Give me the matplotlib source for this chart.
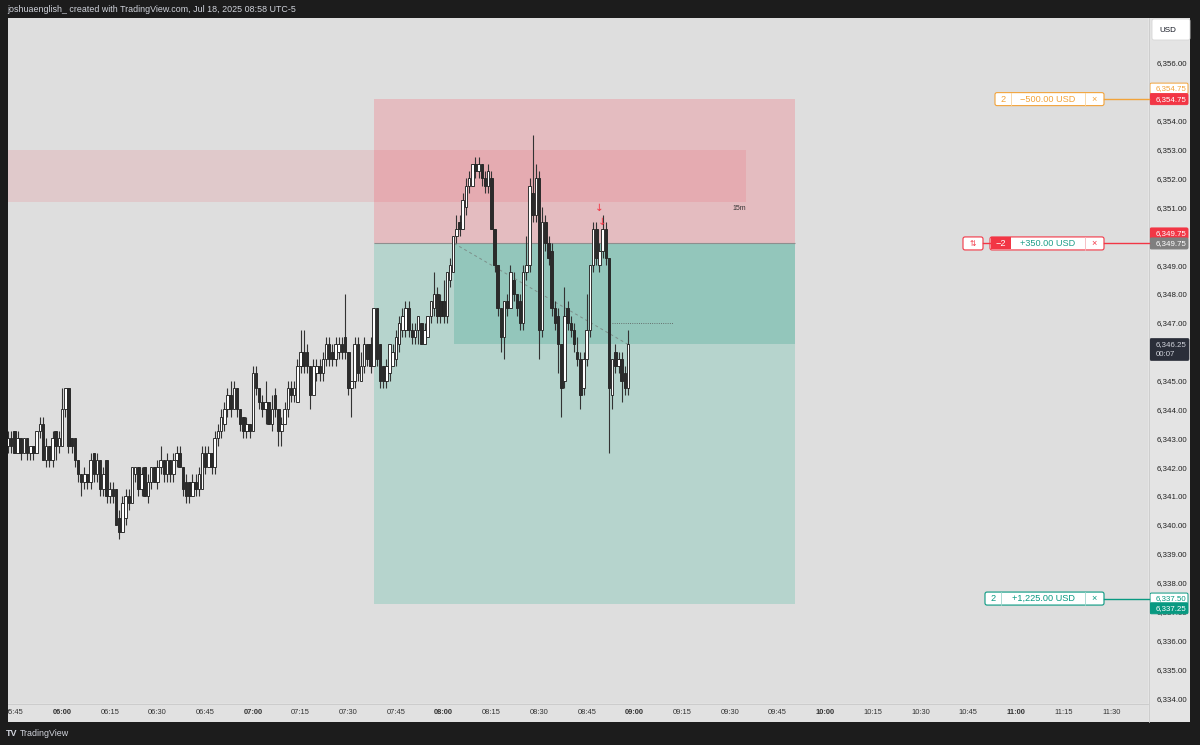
import matplotlib
matplotlib.use("Agg")
import matplotlib.pyplot as plt
from matplotlib.patches import Rectangle, FancyBboxPatch

plt.rcParams['font.family'] = ['Liberation Sans', 'DejaVu Sans']

# 1 minute bars, first bar 05:43 (minutes after midnight)
first_bar = 5 * 60 + 43

opens = [
    # 05:43 - 05:59
    6342.75, 6343.0, 6343.25, 6342.5, 6343.0, 6342.5, 6343.0, 6342.5, 6342.75, 6342.5, 6343.25, 6343.5, 6342.25, 6342.75, 6342.25, 6343.25, 6342.75,
    # 06:00
    6342.75, 6344.0, 6344.75, 6343.0, 6343.0, 6342.25, 6341.75, 6341.5, 6341.75, 6341.5, 6342.5, 6341.75, 6342.25, 6341.25, 6342.25,
    6341.0, 6341.25, 6341.25, 6340.25, 6339.75, 6340.25, 6341.0, 6340.75, 6341.75, 6342.0, 6341.25, 6342.0, 6341.0, 6341.5, 6342.0,
    6341.5, 6342.0, 6342.25, 6341.75, 6342.25, 6341.75, 6342.25, 6342.5, 6342.0, 6341.5, 6341.5, 6341.0, 6341.5, 6341.25, 6341.25,
    6342.5, 6342.0, 6342.5, 6342.0, 6343.0, 6343.25, 6343.5, 6344.0, 6344.5, 6344.0, 6344.75, 6344.0, 6343.75, 6343.25, 6343.5,
    # 07:00
    6343.25, 6345.25, 6344.75, 6344.25, 6344.0, 6344.25, 6343.5, 6344.5, 6344.0, 6343.25, 6343.5, 6344.0, 6344.75, 6344.5, 6344.25,
    6345.5, 6346.0, 6346.0, 6345.5, 6344.5, 6345.25, 6345.5, 6345.25, 6345.75, 6346.25, 6346.0, 6345.75, 6346.0, 6346.25, 6346.5,
    6346.0, 6344.75, 6345.0, 6346.25, 6345.0, 6345.5, 6346.25, 6346.25, 6345.5, 6347.5, 6346.25, 6345.5, 6345.0, 6345.25, 6345.5,
    6345.75, 6346.25, 6346.75, 6346.75, 6347.5, 6346.75, 6346.5, 6346.75, 6347.0, 6346.25, 6346.5, 6347.25, 6347.5, 6348.0, 6347.75,
    # 08:00
    6347.75, 6347.25, 6348.5, 6348.75, 6350.0, 6350.5, 6350.25, 6351.0, 6351.75, 6351.75, 6352.5, 6352.25, 6352.5, 6352.0, 6351.75,
    6352.0, 6350.25, 6349.0, 6347.5, 6346.5, 6347.75, 6347.5, 6348.5, 6348.0, 6347.75, 6347.0, 6348.75, 6349.0, 6351.5, 6350.75,
    6352.0, 6346.75, 6350.5, 6349.75, 6349.5, 6347.5, 6347.25, 6346.25, 6345.0, 6347.5, 6347.0, 6346.75, 6346.0, 6345.75, 6344.75,
    6345.75, 6346.75, 6349.0, 6350.25, 6349.0, 6349.5, 6350.25, 6349.25, 6344.5, 6346.0, 6345.5, 6345.75, 6345.25, 6344.75,
]
highs = [
    6343.25, 6343.25, 6343.25, 6343.25, 6343.0, 6343.0, 6343.0, 6342.75, 6342.75, 6343.25, 6343.75, 6343.75, 6343.0, 6342.75, 6343.25, 6343.25, 6343.25,
    6344.75, 6344.75, 6344.75, 6343.0, 6343.0, 6342.25, 6341.75, 6342.0, 6341.75, 6342.5, 6342.5, 6342.5, 6342.25, 6342.0, 6342.25,
    6341.5, 6341.5, 6341.25, 6340.5, 6341.0, 6341.25, 6341.25, 6342.0, 6342.0, 6342.0, 6342.0, 6342.0, 6341.75, 6342.0, 6342.0,
    6342.25, 6342.75, 6342.25, 6342.5, 6342.25, 6342.5, 6342.75, 6342.75, 6342.0, 6341.75, 6341.5, 6341.75, 6341.75, 6342.0, 6342.75,
    6342.75, 6342.75, 6342.5, 6343.25, 6343.5, 6344.0, 6344.25, 6344.75, 6345.0, 6345.0, 6344.75, 6344.0, 6343.75, 6343.75, 6343.5,
    6345.5, 6345.5, 6344.75, 6344.5, 6345.0, 6344.25, 6344.5, 6344.75, 6344.0, 6343.75, 6344.25, 6345.0, 6345.0, 6345.0, 6345.75,
    6346.75, 6346.75, 6346.25, 6345.5, 6345.75, 6345.75, 6345.75, 6346.0, 6346.5, 6346.5, 6346.25, 6346.5, 6346.5, 6346.5, 6348.0,
    6346.0, 6345.0, 6346.5, 6346.5, 6346.0, 6346.5, 6346.25, 6346.5, 6347.5, 6347.5, 6346.25, 6345.5, 6345.75, 6346.25, 6346.25,
    6346.75, 6347.25, 6347.5, 6347.75, 6347.75, 6347.0, 6347.0, 6347.25, 6347.0, 6347.0, 6347.25, 6347.75, 6348.75, 6348.25, 6348.0,
    6348.5, 6348.75, 6349.25, 6350.0, 6350.75, 6350.75, 6351.5, 6352.0, 6352.25, 6352.5, 6352.75, 6352.75, 6352.5, 6352.25, 6352.5,
    6352.25, 6350.25, 6349.0, 6347.5, 6347.75, 6348.0, 6349.0, 6348.75, 6348.0, 6348.0, 6349.0, 6350.0, 6352.0, 6353.5, 6352.5,
    6352.25, 6351.0, 6350.75, 6350.0, 6349.75, 6347.75, 6347.5, 6346.25, 6348.25, 6347.75, 6347.25, 6347.0, 6346.5, 6346.0, 6346.0,
    6348.0, 6349.0, 6350.5, 6350.5, 6349.75, 6350.75, 6350.5, 6349.25, 6345.75, 6346.25, 6346.0, 6346.0, 6345.5, 6346.75,
]
lows = [
    6342.5, 6342.5, 6342.5, 6342.5, 6342.25, 6342.5, 6342.25, 6342.25, 6342.25, 6342.5, 6343.0, 6342.25, 6342.0, 6342.0, 6342.0, 6342.25, 6342.5,
    6342.75, 6343.75, 6342.5, 6342.5, 6342.0, 6341.5, 6341.0, 6341.25, 6341.25, 6341.25, 6341.5, 6341.5, 6341.0, 6341.0, 6340.75,
    6340.75, 6340.75, 6340.0, 6339.5, 6339.75, 6340.0, 6340.5, 6340.75, 6341.5, 6341.0, 6341.0, 6341.0, 6340.75, 6341.25, 6341.5,
    6341.25, 6341.75, 6341.5, 6341.5, 6341.5, 6341.5, 6342.0, 6342.0, 6341.0, 6340.75, 6340.75, 6341.0, 6341.0, 6341.0, 6341.25,
    6341.75, 6342.0, 6341.75, 6341.75, 6342.75, 6343.0, 6343.25, 6343.75, 6343.75, 6344.0, 6343.75, 6343.25, 6343.0, 6343.0, 6343.0,
    6343.25, 6344.5, 6344.0, 6343.75, 6343.5, 6343.5, 6343.25, 6343.75, 6342.75, 6342.75, 6343.5, 6343.75, 6344.25, 6344.25, 6344.25,
    6345.25, 6345.25, 6345.25, 6344.0, 6344.5, 6345.0, 6345.0, 6345.0, 6345.5, 6345.5, 6345.5, 6345.5, 6345.75, 6345.75, 6345.75,
    6344.5, 6343.75, 6344.75, 6345.0, 6345.0, 6345.25, 6345.5, 6345.25, 6345.5, 6345.5, 6344.75, 6344.75, 6344.75, 6345.0, 6345.5,
    6345.5, 6346.0, 6346.5, 6346.5, 6346.5, 6346.25, 6346.25, 6346.25, 6346.25, 6346.25, 6346.5, 6347.0, 6347.25, 6347.0, 6347.0,
    6347.0, 6347.0, 6348.25, 6348.75, 6349.75, 6350.0, 6350.25, 6350.75, 6351.5, 6351.75, 6352.0, 6352.0, 6351.75, 6351.5, 6351.5,
    6350.25, 6348.75, 6347.25, 6346.0, 6345.75, 6347.25, 6347.5, 6347.75, 6347.25, 6346.75, 6346.75, 6348.5, 6348.75, 6350.5, 6350.5,
    6345.75, 6346.5, 6349.5, 6349.0, 6347.25, 6346.75, 6345.25, 6343.75, 6344.75, 6346.75, 6346.5, 6346.0, 6345.5, 6344.0, 6344.5,
    6345.5, 6346.5, 6348.75, 6349.0, 6348.75, 6349.25, 6349.0, 6342.5, 6344.0, 6345.25, 6345.25, 6344.25, 6344.5, 6344.5,
]
closes = [
    6343.0, 6342.75, 6342.5, 6343.0, 6342.5, 6343.0, 6342.5, 6342.75, 6342.5, 6343.25, 6343.5, 6342.25, 6342.75, 6342.25, 6343.0, 6342.75, 6343.0,
    6344.0, 6344.75, 6342.75, 6342.75, 6342.25, 6341.75, 6341.5, 6341.75, 6341.5, 6342.25, 6341.75, 6342.25, 6341.25, 6341.75, 6341.0,
    6341.25, 6341.0, 6340.0, 6339.75, 6340.75, 6341.0, 6340.75, 6342.0, 6342.0, 6341.25, 6341.75, 6341.0, 6341.5, 6342.0, 6341.5,
    6342.0, 6342.25, 6341.75, 6342.25, 6341.75, 6342.25, 6342.5, 6342.0, 6341.25, 6341.0, 6341.0, 6341.5, 6341.25, 6341.75, 6342.5,
    6342.0, 6342.5, 6342.0, 6343.0, 6343.25, 6343.75, 6344.0, 6344.5, 6344.0, 6344.75, 6344.0, 6343.5, 6343.25, 6343.5, 6343.25,
    6345.25, 6344.75, 6344.25, 6344.0, 6344.25, 6343.5, 6344.0, 6344.0, 6343.25, 6343.5, 6344.0, 6344.75, 6344.5, 6344.75, 6345.5,
    6346.0, 6345.5, 6345.5, 6344.5, 6345.5, 6345.5, 6345.25, 6345.75, 6346.25, 6345.75, 6345.75, 6346.25, 6346.25, 6346.0, 6346.0,
    6344.75, 6345.0, 6346.25, 6345.25, 6345.5, 6346.25, 6345.75, 6345.5, 6347.5, 6345.75, 6345.0, 6345.0, 6345.5, 6346.25, 6346.0,
    6346.5, 6347.0, 6347.25, 6347.5, 6346.75, 6346.5, 6346.75, 6347.25, 6346.25, 6346.75, 6347.25, 6347.75, 6348.0, 6347.25, 6347.25,
    6347.25, 6348.75, 6349.0, 6350.0, 6350.25, 6350.25, 6351.25, 6351.75, 6352.0, 6352.5, 6352.25, 6352.5, 6352.0, 6351.75, 6352.25,
    6350.25, 6349.0, 6347.5, 6346.5, 6347.75, 6347.5, 6348.75, 6348.0, 6347.5, 6347.0, 6348.75, 6349.0, 6351.75, 6350.75, 6352.0,
    6346.75, 6350.5, 6349.75, 6349.25, 6347.5, 6347.0, 6346.25, 6344.75, 6347.25, 6347.0, 6346.75, 6346.25, 6345.75, 6344.5, 6345.75,
    6346.75, 6349.0, 6350.25, 6349.25, 6349.5, 6350.25, 6349.25, 6344.75, 6345.75, 6345.5, 6345.75, 6345.0, 6344.75, 6346.25,
]

# short position and drawings
stop_price = 6354.75
entry_price = 6349.75
target_price = 6337.25
target_order = 6337.50
last_price = 6346.25
pos_start, pos_end = 458.1, 590.5
entry_time = 483.3
zone_low, zone_high, zone_end = 6351.2, 6353.0, 575.0
hline_price, hline_from, hline_to = 6347.0, 533.0, 552.0
exec_times = [529, 530]
exec_prices = [6350.98, 6350.49]

price_ticks = list(range(6334, 6357))
hidden_ticks = [6355, 6350, 6346]      # covered by the price-scale labels
time_ticks = list(range(345, 691, 15))

W, H = 1200, 745
L, R, T, B = 8, 1148, 18, 703
x0, x1 = 343.0, 701.5
y0, y1 = 6333.83, 6357.56

RED = '#f23645'
TEAL = '#089981'
ORANGE = '#f2a33a'
BG = '#1c1c1c'

times = [first_bar + i for i in range(len(closes))]


def ypx(p):
    return T + (y1 - p) * (B - T) / (y1 - y0)


fig = plt.figure(figsize=(W / 100, H / 100), dpi=100, facecolor=BG)
fig.patches.append(Rectangle((L / W, (H - 722) / H), (1190 - L) / W, (722 - T) / H,
                             transform=fig.transFigure, facecolor='#e1e1e1', zorder=-2))
fig.patches.append(Rectangle((R / W, (H - 722) / H), (1190 - R) / W, (722 - T) / H,
                             transform=fig.transFigure, facecolor='#e4e4e4', zorder=-1))

ax = fig.add_axes([L / W, (H - B) / H, (R - L) / W, (B - T) / H])
ax.set_facecolor('#dedede')
ax.set_xlim(x0, x1)
ax.set_ylim(y0, y1)
for s in ax.spines.values():
    s.set_visible(False)

# position tool
ax.add_patch(Rectangle((pos_start, entry_price), pos_end - pos_start, stop_price - entry_price,
                       facecolor='#e4bcc0', edgecolor='none', zorder=1))
ax.add_patch(Rectangle((pos_start, target_price), pos_end - pos_start, entry_price - target_price,
                       facecolor='#b6d4cd', edgecolor='none', zorder=1))
ax.add_patch(Rectangle((entry_time, last_price), pos_end - entry_time, entry_price - last_price,
                       facecolor='#93c6bb', edgecolor='none', zorder=1.2))
ax.hlines(entry_price, pos_start, pos_end, color='#8e8e8e', lw=0.8, zorder=1.6)

# 15m zone
ax.add_patch(Rectangle((x0, zone_low), zone_end - x0, zone_high - zone_low,
                       facecolor=RED, alpha=0.12, edgecolor='none', zorder=1.5))
ax.text(zone_end, zone_low - 0.12, '15m', ha='right', va='top', fontsize=5, color='#333333', zorder=2)

ax.plot([entry_time, times[-1]], [entry_price, last_price], ls=(0, (3, 3)), color='#7d8f8a', lw=0.7, zorder=2)
ax.hlines(hline_price, hline_from, hline_to, color='#555555', lw=0.6, linestyles=':', zorder=2)

# candles
up = [c >= o for o, c in zip(opens, closes)]
ax.vlines(times, lows, highs, color='#333333', lw=0.8, zorder=3)
bottoms = [min(o, c) for o, c in zip(opens, closes)]
heights = [max(abs(c - o), 0.06) for o, c in zip(opens, closes)]
ax.bar(times, heights, bottom=bottoms, width=0.8,
       color=['#ffffff' if u else '#2b2b2b' for u in up],
       edgecolor='#262626', linewidth=0.65, zorder=4)

for t, p in zip(exec_times, exec_prices):
    ax.text(t, p, '↓', ha='center', va='center', fontsize=7.5, color=RED,
            family='DejaVu Sans', zorder=5)

# axes ticks
ax.set_xticks(time_ticks, labels=[f'{t // 60:02d}:{t % 60:02d}' for t in time_ticks])
for lbl in ax.get_xticklabels():
    if lbl.get_text().endswith(':00'):
        lbl.set_fontweight('bold')
        lbl.set_color('#111111')
ax.tick_params(axis='x', length=0, pad=4.5, labelsize=5.4, labelcolor='#333333')
ax.yaxis.tick_right()
ax.set_yticks(price_ticks, labels=['' if p in hidden_ticks else f'{p:,.2f}' for p in price_ticks])
ax.tick_params(axis='y', length=0, pad=6.5, labelsize=5.7, labelcolor='#222222')

# overlay in pixels for the trading widgets
ui = fig.add_axes([0, 0, 1, 1])
ui.set_xlim(0, W)
ui.set_ylim(H, 0)
ui.axis('off')
ui.set_zorder(5)

ui.add_patch(Rectangle((0, T), L, 722 - T, facecolor=BG, edgecolor='none'))
ui.plot([R + 0.5, R + 0.5], [T, 722], color='#c9c9c9', lw=0.6)
ui.plot([L, R], [B + 0.5, B + 0.5], color='#c9c9c9', lw=0.6)


def box(xa, xb, yc, h, fc, ec, lw=0.8, r=2.0):
    ui.add_patch(FancyBboxPatch((xa, yc - h / 2), xb - xa, h, boxstyle=f'round,pad=0,rounding_size={r}',
                                facecolor=fc, edgecolor=ec, lw=lw))


def sep(x, yc, h, color):
    ui.plot([x, x], [yc - h / 2, yc + h / 2], color=color, lw=0.6)


def plabel(yc, text, fc, ec, tc):
    box(1150, 1188, yc, 11, fc, ec, lw=0.7, r=1.5)
    ui.text(1156, yc + 0.3, text, ha='left', va='center', fontsize=5.7, color=tc)


fs = 6.6
# stop order row
yc = ypx(stop_price)
ui.plot([1104, R + 1], [yc, yc], color=ORANGE, lw=1)
box(995, 1104, yc, 13, 'white', ORANGE)
sep(1011, yc, 13, '#f6d39f')
sep(1085, yc, 13, '#f6d39f')
ui.text(1003, yc, '2', ha='center', va='center', fontsize=fs, color=ORANGE)
ui.text(1048, yc, '−500.00 USD', ha='center', va='center', fontsize=fs, color=ORANGE)
ui.text(1094.5, yc, '×', ha='center', va='center', fontsize=fs, color=ORANGE)

# position row
yc = ypx(entry_price)
ui.plot([1104, R + 1], [yc, yc], color=RED, lw=1)
ui.plot([983, 990], [yc, yc], color=RED, lw=1)
box(963, 983, yc, 13, 'white', RED)
ui.text(973, yc, '⇅', ha='center', va='center', fontsize=5.5, color=RED, family='DejaVu Sans')
box(990, 1104, yc, 13, 'white', RED)
ui.add_patch(Rectangle((990.5, yc - 6), 20.5, 12, facecolor=RED, edgecolor='none'))
sep(1085, yc, 13, '#f6b5bb')
ui.text(1000.5, yc, '−2', ha='center', va='center', fontsize=fs, color='white')
ui.text(1048, yc, '+350.00 USD', ha='center', va='center', fontsize=fs, color='#1f9e88')
ui.text(1094.5, yc, '×', ha='center', va='center', fontsize=fs, color=RED)

# target order row
yc = ypx(target_order) + 1.5
ui.plot([1104, R + 1], [yc, yc], color=TEAL, lw=1)
box(985, 1104, yc, 13, 'white', TEAL)
sep(1001, yc, 13, '#9fd6cc')
sep(1085, yc, 13, '#9fd6cc')
ui.text(993, yc, '2', ha='center', va='center', fontsize=fs, color=TEAL)
ui.text(1043, yc, '+1,225.00 USD', ha='center', va='center', fontsize=fs, color=TEAL)
ui.text(1094.5, yc, '×', ha='center', va='center', fontsize=fs, color=TEAL)

# price scale labels
plabel(ypx(stop_price) - 10.5, f'{stop_price:,.2f}', 'white', ORANGE, ORANGE)
plabel(ypx(stop_price), f'{stop_price:,.2f}', RED, RED, 'white')
plabel(ypx(entry_price) - 10, f'{entry_price:,.2f}', RED, RED, 'white')
plabel(ypx(entry_price), f'{entry_price:,.2f}', '#7f7f7f', '#7f7f7f', 'white')
plabel(ypx(target_order) + 1.5, f'{target_order:,.2f}', 'white', TEAL, TEAL)
plabel(ypx(target_price) + 4, f'{target_price:,.2f}', TEAL, TEAL, 'white')
yl = ypx(last_price)
box(1150, 1189, yl + 5, 22, '#2a2e39', '#2a2e39', lw=0.5, r=1.5)
ui.text(1156, yl, f'{last_price:,.2f}', ha='left', va='center', fontsize=5.7, color='#d1d4dc')
ui.text(1156, yl + 10, '00:07', ha='left', va='center', fontsize=5.7, color='#d1d4dc')

box(1152, 1190, 29.5, 21, 'white', '#d6d6d6', lw=0.6, r=2)
ui.text(1159, 30, 'USD', ha='left', va='center', fontsize=5.8, color='#131722')

ui.text(7, 9.5, 'joshuaenglish_ created with TradingView.com, Jul 18, 2025 08:58 UTC-5',
        ha='left', va='center', fontsize=6.4, color='#d1d4dc')
ui.text(6, 733, 'TV', ha='left', va='center', fontsize=6.5, fontweight='bold', color='#d1d4dc')
ui.text(20, 733, 'TradingView', ha='left', va='center', fontsize=6.4, color='#d1d4dc')

fig.savefig('out.png', dpi=100, facecolor=BG)
